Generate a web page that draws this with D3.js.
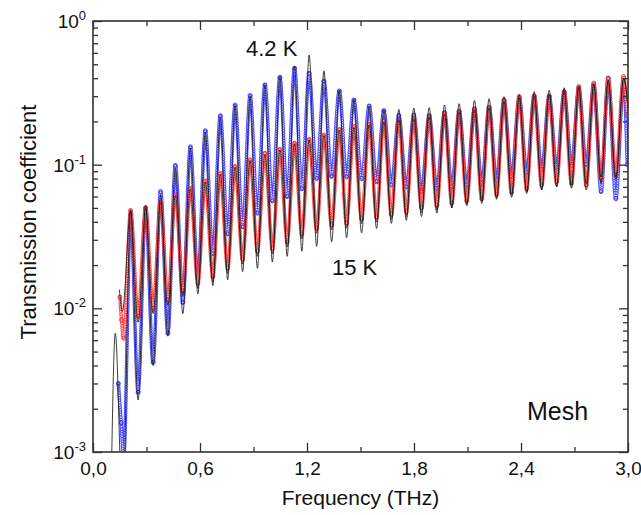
<!DOCTYPE html>
<html><head><meta charset="utf-8">
<script src="https://cdn.jsdelivr.net/npm/d3@7"></script>
<style>
body{margin:0;background:#fff}
svg{display:block}
text{font-family:Arial,"Liberation Sans",sans-serif;fill:#111}
</style>
</head><body>
<svg id="chart" width="641" height="515"></svg>
<script>
// ---------------- data ----------------
const freqPeaks = [0.211,0.295,0.379,0.462,0.546,0.630,0.714,0.797,0.881,0.964,1.048,1.130,1.212,1.295,1.381,1.463,1.549,1.631,1.715,1.799,1.885,1.971,2.053,2.139,2.221,2.305,2.390,2.474,2.558,2.642,2.724,2.808,2.889,2.975];
const freqTroughs = [0.253,0.337,0.420,0.504,0.588,0.672,0.755,0.839,0.922,1.006,1.089,1.171,1.254,1.338,1.422,1.506,1.590,1.673,1.757,1.842,1.928,2.012,2.096,2.180,2.263,2.347,2.432,2.516,2.600,2.683,2.766,2.849,2.932];

// fit, 4.2 K (black line)
const fit42LeadF = [0.100,0.125,0.166];
const fit42LeadT = [0.0004,0.0067,0.0004];
const fit42Peaks = [0.048,0.052,0.062,0.095,0.130,0.168,0.215,0.258,0.300,0.360,0.410,0.485,0.580,0.450,0.330,0.285,0.255,0.242,0.243,0.248,0.250,0.260,0.266,0.280,0.288,0.297,0.307,0.322,0.330,0.343,0.353,0.365,0.385,0.400];
const fit42Troughs = [0.0023,0.0040,0.0064,0.0092,0.0126,0.0144,0.0158,0.0180,0.0190,0.0210,0.0230,0.0250,0.0270,0.0290,0.0310,0.0335,0.0360,0.0390,0.0410,0.0435,0.0460,0.0500,0.0530,0.0560,0.0590,0.0620,0.0645,0.0670,0.0700,0.0720,0.0740,0.0820,0.0820];
const fit42TailF = [3.0];
const fit42TailT = [0.25];

// fit, 15 K (black line)
const fit15LeadF = [0.148,0.165];
const fit15LeadT = [0.0135,0.0095];
const fit15Peaks = [0.048,0.050,0.055,0.061,0.068,0.076,0.086,0.096,0.107,0.118,0.127,0.140,0.149,0.160,0.174,0.182,0.190,0.199,0.205,0.210,0.216,0.226,0.233,0.242,0.250,0.275,0.292,0.300,0.305,0.322,0.345,0.365,0.390,0.400];
const fit15Troughs = [0.0080,0.0092,0.0105,0.0122,0.0138,0.0153,0.0175,0.0203,0.0230,0.0240,0.0268,0.0305,0.0333,0.0352,0.0361,0.0389,0.0398,0.0416,0.0435,0.0463,0.0481,0.0500,0.0518,0.0537,0.0574,0.0592,0.0630,0.0666,0.0703,0.0685,0.0666,0.0740,0.0786];
const fit15TailF = [3.0];
const fit15TailT = [0.25];

// measured, 4.2 K (blue circles)
const blueLeadF = [0.142,0.158,0.172];
const blueLeadT = [0.0030,0.0016,0.00092];
const bluePeaks = [0.045,0.050,0.065,0.0985,0.133,0.172,0.219,0.260,0.303,0.359,0.406,0.469,0.432,0.382,0.326,0.282,0.256,0.238,0.220,0.222,0.220,0.230,0.235,0.245,0.250,0.280,0.290,0.300,0.300,0.320,0.340,0.360,0.400,0.380];
const blueTroughs = [0.0026,0.0042,0.0067,0.0110,0.0160,0.0240,0.0330,0.0370,0.0460,0.0560,0.0600,0.0680,0.0800,0.0830,0.0820,0.0800,0.0760,0.0720,0.0700,0.0650,0.0680,0.0700,0.0720,0.0740,0.0780,0.0830,0.0880,0.0920,0.0950,0.0980,0.1000,0.0650,0.0580];
const blueTailF = [2.996];
const blueTailT = [0.10];

// measured, 15 K (red circles)
const redLeadF = [0.151,0.160,0.172];
const redLeadT = [0.012,0.0083,0.0062];
const redPeaks = [0.048,0.050,0.055,0.0615,0.0685,0.077,0.087,0.097,0.108,0.120,0.128,0.141,0.150,0.161,0.176,0.184,0.191,0.201,0.205,0.210,0.216,0.228,0.234,0.243,0.251,0.282,0.298,0.300,0.300,0.322,0.349,0.370,0.400,0.410];
const redTroughs = [0.0088,0.0100,0.0114,0.0132,0.0150,0.0166,0.0190,0.0220,0.0250,0.0260,0.0290,0.0330,0.0360,0.0380,0.0390,0.0420,0.0430,0.0450,0.0470,0.0500,0.0520,0.0540,0.0560,0.0580,0.0620,0.0640,0.0680,0.0720,0.0760,0.0740,0.0720,0.0800,0.0850];
const redTailF = [2.995];
const redTailT = [0.22];

const xMajor = [0,0.6,1.2,1.8,2.4,3.0];
const xMinor = [0.3,0.9,1.5,2.1,2.7];
const yDecades = [1e-3,1e-2,1e-1,1];
const yDecadeExp = ["-3","-2","-1","0"];
const labels = {x:"Frequency (THz)", y:"Transmission coefficient", hot:"4.2 K", cold:"15 K", sample:"Mesh"};

// ---------------- build ----------------
function series(leadF, leadT, peaks, troughs, tailF, tailT){
  const pts = leadF.map((f,i)=>[f, leadT[i]]);
  freqPeaks.forEach((f,i)=>{
    pts.push([f, peaks[i]]);
    if(i < freqTroughs.length) pts.push([freqTroughs[i], troughs[i]]);
  });
  tailF.forEach((f,i)=>pts.push([f, tailT[i]]));
  return pts;
}
const fit42 = series(fit42LeadF, fit42LeadT, fit42Peaks, fit42Troughs, fit42TailF, fit42TailT);
const fit15 = series(fit15LeadF, fit15LeadT, fit15Peaks, fit15Troughs, fit15TailF, fit15TailT);
const blue = series(blueLeadF, blueLeadT, bluePeaks, blueTroughs, blueTailF, blueTailT);
const red = series(redLeadF, redLeadT, redPeaks, redTroughs, redTailF, redTailT);

const L=93, R=628, T=21, B=452;
const svg = d3.select("#chart");
const x = d3.scaleLinear().domain([0,3]).range([L,R]);
const y = d3.scaleLog().domain([1e-3,1]).range([B,T]);

svg.append("defs").append("clipPath").attr("id","clip")
  .append("rect").attr("x",L).attr("y",T).attr("width",R-L).attr("height",B-T);

const line = d3.line().x(d=>x(d[0])).y(d=>y(d[1])).curve(d3.curveMonotoneX);
const plot = svg.append("g").attr("clip-path","url(#clip)");

function band(data, dark, light){
  plot.append("path").attr("d", line(data)).attr("fill","none")
    .attr("stroke", dark).attr("stroke-width",3.8).attr("stroke-linecap","round")
    .attr("stroke-dasharray","0.01 2.4").attr("stroke-opacity",0.85);
  plot.append("path").attr("d", line(data)).attr("fill","none")
    .attr("stroke", light).attr("stroke-width",1.7).attr("stroke-linecap","round")
    .attr("stroke-dasharray","0.01 2.4");
  plot.append("g").selectAll("circle").data(data).join("circle")
    .attr("cx",d=>x(d[0])).attr("cy",d=>y(d[1])).attr("r",2)
    .attr("fill","none").attr("stroke",dark).attr("stroke-width",0.9);
}
band(blue, "#2a2aff", "#d0d0ff");
band(red, "#ff2a2a", "#ffd0d0");

[fit15, fit42].forEach(d=>{
  plot.append("path").attr("d", line(d)).attr("fill","none")
    .attr("stroke","#1a1a1a").attr("stroke-width",0.85);
});

// ---------------- axes ----------------
const axisCol = "#333";
function styleAxis(g){
  g.select(".domain").remove();
  g.selectAll("line").attr("stroke",axisCol).attr("stroke-width",1.3);
  g.selectAll("text").attr("font-size",19).attr("fill","#111")
    .attr("font-family","Arial, 'Liberation Sans', sans-serif");
}
const fmt = d => d3.format(".1f")(d).replace(".",",");
svg.append("g").attr("transform",`translate(0,${B})`)
  .call(d3.axisBottom(x).tickValues(xMajor).tickSize(-9).tickPadding(10).tickFormat(fmt)).call(styleAxis);
svg.append("g").attr("transform",`translate(0,${B})`)
  .call(d3.axisBottom(x).tickValues(xMinor).tickSize(-5).tickFormat("")).call(styleAxis);
svg.append("g").attr("transform",`translate(0,${T})`)
  .call(d3.axisTop(x).tickValues(xMajor).tickSize(-9).tickFormat("")).call(styleAxis);
svg.append("g").attr("transform",`translate(0,${T})`)
  .call(d3.axisTop(x).tickValues(xMinor).tickSize(-5).tickFormat("")).call(styleAxis);

const yMinor = [];
[1e-3,1e-2,1e-1].forEach(d=>{ for(let k=2;k<=9;k++) yMinor.push(d*k); });
svg.append("g").attr("transform",`translate(${L},0)`)
  .call(d3.axisLeft(y).tickValues(yDecades).tickSize(-9).tickFormat("")).call(styleAxis);
svg.append("g").attr("transform",`translate(${L},0)`)
  .call(d3.axisLeft(y).tickValues(yMinor).tickSize(-5).tickFormat("")).call(styleAxis);
svg.append("g").attr("transform",`translate(${R},0)`)
  .call(d3.axisRight(y).tickValues(yDecades).tickSize(-9).tickFormat("")).call(styleAxis);
svg.append("g").attr("transform",`translate(${R},0)`)
  .call(d3.axisRight(y).tickValues(yMinor).tickSize(-5).tickFormat("")).call(styleAxis);

svg.append("rect").attr("x",L).attr("y",T).attr("width",R-L).attr("height",B-T)
  .attr("fill","none").attr("stroke",axisCol).attr("stroke-width",1.6);

// y tick labels 10^n
yDecades.forEach((v,i)=>{
  const t = svg.append("text").attr("x",86).attr("y",y(v)+7).attr("text-anchor","end").attr("font-size",19);
  t.append("tspan").text("10");
  t.append("tspan").attr("dy",-8).attr("font-size",13).text(yDecadeExp[i]);
});

// axis titles
svg.append("text").attr("x",(L+R)/2).attr("y",505).attr("text-anchor","middle")
  .attr("font-size",21).text(labels.x);
svg.append("text").attr("transform","translate(36,222) rotate(-90)").attr("text-anchor","middle")
  .attr("font-size",22).text(labels.y);

// annotations
svg.append("text").attr("x",246).attr("y",56).attr("font-size",22).text(labels.hot);
svg.append("text").attr("x",332).attr("y",275).attr("font-size",22).text(labels.cold);
svg.append("text").attr("x",527).attr("y",420).attr("font-size",25).text(labels.sample);
</script>
</body></html>
